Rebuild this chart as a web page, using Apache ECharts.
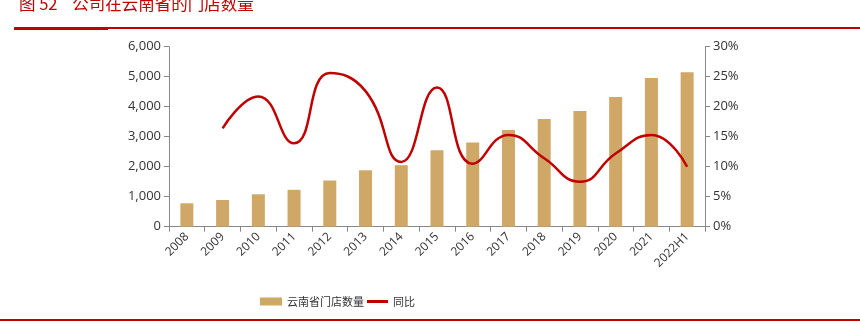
<!DOCTYPE html>
<html><head><meta charset="utf-8">
<script src="https://cdn.jsdelivr.net/npm/echarts@6/dist/echarts.min.js"></script>
<style>html,body{margin:0;padding:0;background:#fff}#c{width:860px;height:325px}</style>
</head><body><div id="c"></div>
<script>
const categories = ['2008','2009','2010','2011','2012','2013','2014','2015','2016','2017','2018','2019','2020','2021','2022H1'];
const storeCounts = [780, 890, 1080, 1230, 1540, 1880, 2050, 2550, 2810, 3220, 3590, 3860, 4320, 4960, 5150];
const yoy = [null, 16.4, 21.7, 13.9, 25.6, 22.6, 10.8, 23.2, 10.5, 15.3, 11.4, 7.5, 12.2, 15.3, 10.0];
const leftTicks = {min: 0, max: 6000, interval: 1000};
const rightTicks = {min: 0, max: 30, interval: 5};

const chart = echarts.init(document.getElementById('c'));
const axisFont = {fontFamily: 'Open Sans', fontSize: 13, color: '#333'};
const legendText = {fontFamily: 'Noto Sans CJK SC', fontSize: 11, color: '#333'};
chart.setOption({
  animation: false,
  title: {
    text: '图 52    公司在云南省的门店数量',
    left: 14, top: -10,
    textStyle: {fontFamily: 'Noto Sans CJK SC', fontSize: 16.5, fontWeight: 'normal', color: '#C00000'}
  },
  graphic: [
    {type: 'rect', shape: {x: 14, y: 27, width: 846, height: 2}, style: {fill: '#C00000'}},
    {type: 'rect', shape: {x: 14, y: 27, width: 94, height: 3}, style: {fill: '#C00000'}},
    {type: 'rect', shape: {x: 0, y: 319, width: 860, height: 2}, style: {fill: '#C00000'}}
  ],
  grid: {left: 169, right: 155, top: 46.7, bottom: 98.3},
  legend: [
    {left: 255, top: 291, itemWidth: 22, itemHeight: 8, itemGap: 4,
     textStyle: legendText, data: [{name: '云南省门店数量', icon: 'rect'}]},
    {left: 362, top: 291, itemWidth: 21, itemHeight: 3, itemGap: 4,
     textStyle: legendText, data: [{name: '同比', icon: 'rect'}]}
  ],
  xAxis: {
    type: 'category', data: categories, boundaryGap: true,
    axisLine: {lineStyle: {color: '#888'}},
    axisTick: {show: true, alignWithLabel: false, length: 5, lineStyle: {color: '#888'}},
    axisLabel: {rotate: 45, interval: 0, fontFamily: 'Open Sans', fontSize: 12, color: '#333', margin: 8}
  },
  yAxis: [
    {type: 'value', min: leftTicks.min, max: leftTicks.max, interval: leftTicks.interval,
     splitLine: {show: false},
     axisLine: {show: true, lineStyle: {color: '#888'}},
     axisTick: {show: true, length: 5, lineStyle: {color: '#888'}},
     axisLabel: Object.assign({margin: 8, formatter: v => v.toLocaleString('en-US')}, axisFont)},
    {type: 'value', min: rightTicks.min, max: rightTicks.max, interval: rightTicks.interval,
     splitLine: {show: false}, position: 'right',
     axisLine: {show: true, lineStyle: {color: '#888'}},
     axisTick: {show: true, length: 5, lineStyle: {color: '#888'}},
     axisLabel: Object.assign({margin: 8, formatter: v => v + '%'}, axisFont)}
  ],
  series: [
    {name: '云南省门店数量', type: 'bar', data: storeCounts, barWidth: 13,
     itemStyle: {color: '#CFA766'}},
    {name: '同比', type: 'line', yAxisIndex: 1, data: yoy, smooth: 0.5,
     symbol: 'none', lineStyle: {color: '#C00000', width: 2.5}, itemStyle: {color: '#C00000'}}
  ]
});
</script></body></html>
